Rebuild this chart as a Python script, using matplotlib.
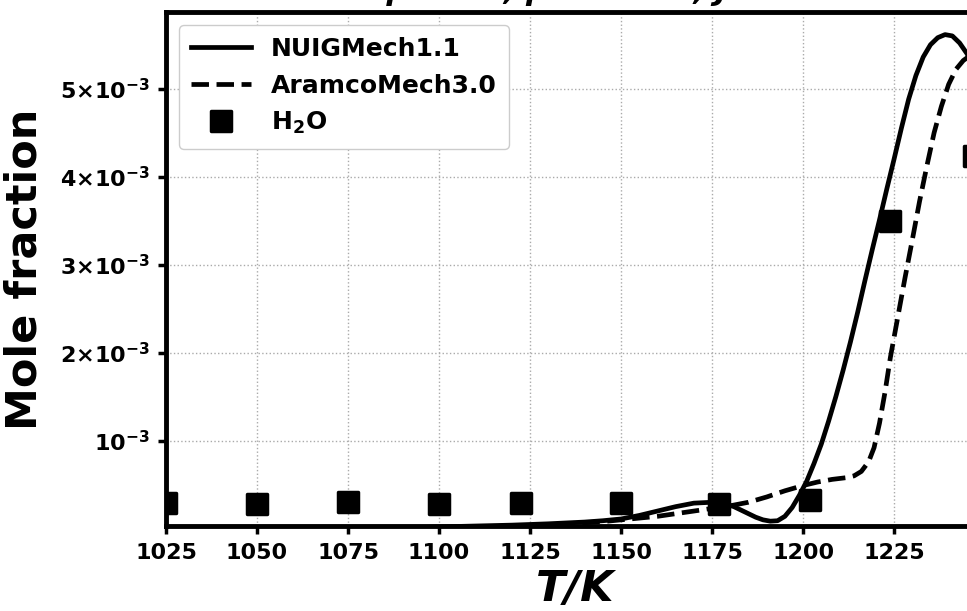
import numpy as np
import matplotlib
matplotlib.use('Agg')
import matplotlib.pyplot as plt
from matplotlib.markers import MarkerStyle
from matplotlib.ticker import FixedLocator, FuncFormatter

plt.rcParams['font.family'] = ['DejaVu Sans']
plt.rcParams['font.weight'] = 'bold'
plt.rcParams['mathtext.fontset'] = 'dejavusans'

# NUIGMech1.1 simulation (T in K, mole fraction in units of 1e-3)
T_nuig = [1090, 1100, 1110, 1120, 1130, 1140, 1145, 1150, 1155, 1160, 1165, 1170,
          1175, 1178, 1181, 1184, 1187, 1189, 1191, 1193, 1195, 1197, 1199, 1201,
          1203, 1205, 1207, 1209, 1211, 1213, 1215, 1217, 1219, 1221, 1223, 1225,
          1227, 1229, 1231, 1233, 1235, 1237, 1239, 1241, 1243, 1245, 1247, 1250]
x_nuig = [0.005, 0.02, 0.03, 0.04, 0.055, 0.075, 0.09, 0.11, 0.15, 0.20, 0.25, 0.29,
          0.30, 0.29, 0.25, 0.19, 0.13, 0.10, 0.085, 0.09, 0.14, 0.24, 0.38, 0.54,
          0.74, 0.96, 1.22, 1.50, 1.80, 2.12, 2.46, 2.82, 3.17, 3.51, 3.86, 4.20,
          4.55, 4.88, 5.15, 5.36, 5.50, 5.58, 5.615, 5.60, 5.52, 5.40, 5.25, 5.00]

# AramcoMech3.0 simulation
T_aramco = [1105, 1115, 1125, 1135, 1145, 1150, 1155, 1160, 1165, 1170, 1175, 1180,
            1185, 1190, 1195, 1200, 1204, 1208, 1212, 1214, 1216, 1218, 1219.5, 1221,
            1222.5, 1224, 1226, 1228, 1230, 1232, 1234, 1236, 1238, 1240, 1242, 1244,
            1246, 1248, 1250]
x_aramco = [0.005, 0.02, 0.035, 0.055, 0.08, 0.10, 0.12, 0.14, 0.17, 0.20, 0.23, 0.26,
            0.30, 0.36, 0.43, 0.49, 0.53, 0.56, 0.58, 0.60, 0.65, 0.76, 0.92, 1.20,
            1.55, 1.95, 2.40, 2.85, 3.28, 3.72, 4.12, 4.50, 4.80, 5.05, 5.22, 5.32,
            5.38, 5.40, 5.38]

# measured H2O
T_exp = [1025, 1050, 1075, 1100, 1122.5, 1150, 1177, 1202, 1224, 1247]
x_exp = [0.29, 0.28, 0.30, 0.28, 0.29, 0.29, 0.28, 0.32, 3.50, 4.24]

xticks = [1025, 1050, 1075, 1100, 1125, 1150, 1175, 1200, 1225]
yticks = [1e-3, 2e-3, 3e-3, 4e-3, 5e-3]


def sci_label(v, pos):
    m = int(round(v / 1e-3))
    if m == 1:
        return r'$\mathbf{10^{-3}}$'
    return r'$\mathbf{%d{\times}10^{-3}}$' % m


fig = plt.figure(figsize=(9.67, 6.11), dpi=100)
ax = fig.add_axes([0.1717, 0.1391, 0.847, 0.841])

ax.plot(T_nuig, np.array(x_nuig) * 1e-3, 'k-', lw=3.4, label='NUIGMech1.1')
ax.plot(T_aramco, np.array(x_aramco) * 1e-3, 'k--', lw=3.4, label='AramcoMech3.0')
sq = MarkerStyle('s', joinstyle='round')
ax.plot(T_exp, np.array(x_exp) * 1e-3, ls='none', marker=sq, color='k', ms=14, mew=2.5,
        label=r'$\mathbf{H_2O}$')

ax.set_xlim(1025, 1250)
ax.set_ylim(3e-5, 5.87e-3)
ax.xaxis.set_major_locator(FixedLocator(xticks))
ax.yaxis.set_major_locator(FixedLocator(yticks))
ax.yaxis.set_major_formatter(FuncFormatter(sci_label))
ax.tick_params(direction='out', length=6, width=2.5, labelsize=16, pad=6)
for lab in ax.get_xticklabels():
    lab.set_fontweight('bold')

ax.grid(True, ls=':', color='#aaaaaa', lw=1)
for sp in ax.spines.values():
    sp.set_linewidth(3.5)

ax.set_xlabel('T/K', fontsize=31, fontweight='bold', style='italic', labelpad=4)
ax.set_ylabel('Mole fraction', fontsize=31, fontweight='bold', labelpad=10)

# title sits on the top edge of the figure, centred over the axes
fig.text(0.595, 1.0, 'φ = 1.0, p = 1 atm, JSR', fontsize=22, fontweight='bold',
         style='italic', ha='center', va='baseline')

leg = ax.legend(loc='upper left', fontsize=18, handlelength=2.4, borderpad=0.5,
                labelspacing=0.5, framealpha=1, edgecolor='#cccccc')
for t in leg.get_texts():
    t.set_fontweight('bold')

fig.savefig('out.png', dpi=100)
